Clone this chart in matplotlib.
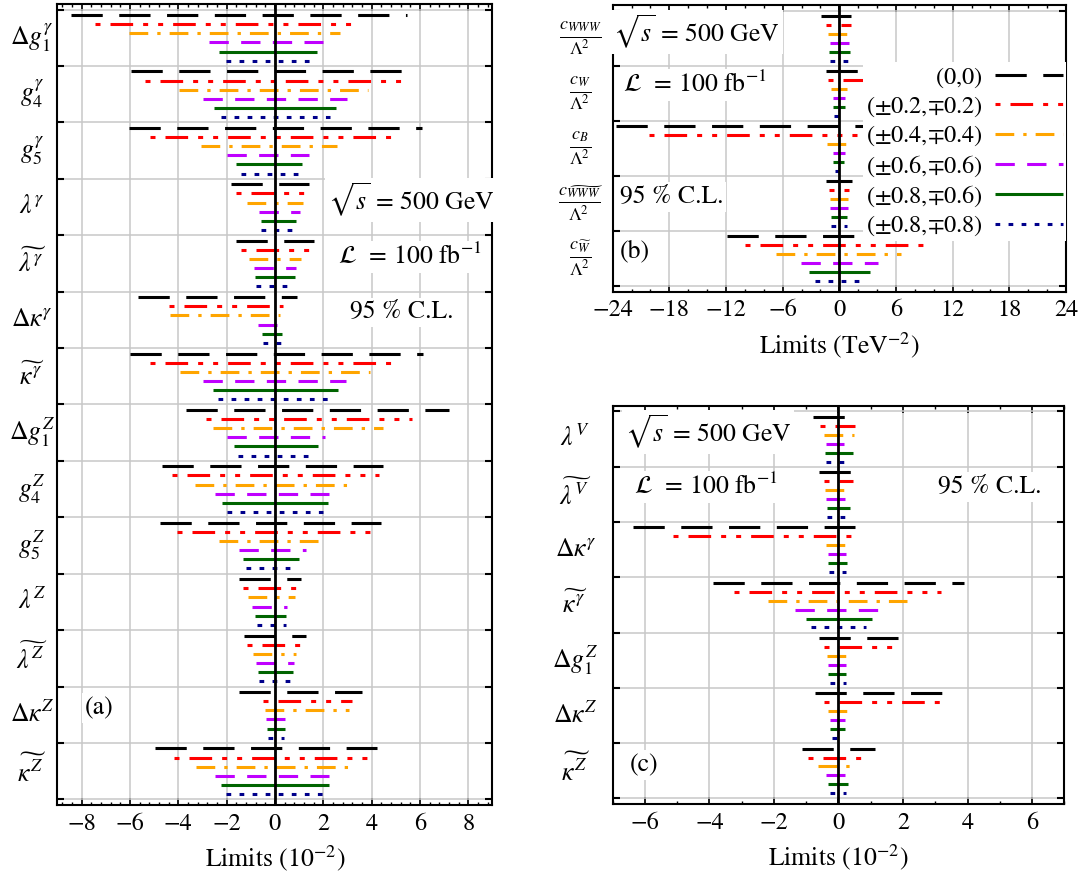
import matplotlib
matplotlib.use('Agg')
import matplotlib.pyplot as plt
from matplotlib.ticker import MultipleLocator
from matplotlib.lines import Line2D

plt.rcParams['font.family'] = 'STIXGeneral'
plt.rcParams['mathtext.fontset'] = 'stix'
plt.rcParams['lines.scale_dashes'] = False
plt.rcParams['axes.unicode_minus'] = True

# polarisation settings (P_e-, P_e+)
pol_labels = [r'$(0{,}0)$', r'$(\pm0.2{,}{\mp0.2})$', r'$(\pm0.4{,}{\mp0.4})$',
              r'$(\pm0.6{,}{\mp0.6})$', r'$(\pm0.8{,}{\mp0.6})$', r'$(\pm0.8{,}{\mp0.8})$']
colors = ['#000000', '#ff0000', '#ffa500', '#bf00ff', '#006400', '#00008b']
styles = [(0, (22.5, 11.9)),
          (0, (3.6, 7.2, 16.3, 7.2, 3.6, 7.2)),
          (0, (13.5, 6.5, 2.4, 6.5)),
          (0, (13.9, 8.9)),
          '-',
          (0, (3.4, 6.0))]

# panel (a): limits in 10^-2
a_params = [r'$\Delta g_1^{\gamma}$', r'$g_4^{\gamma}$', r'$g_5^{\gamma}$', r'$\lambda^{\gamma}$',
            r'$\widetilde{\lambda^{\gamma}}$', r'$\Delta\kappa^{\gamma}$', r'$\widetilde{\kappa^{\gamma}}$',
            r'$\Delta g_1^{Z}$', r'$g_4^{Z}$', r'$g_5^{Z}$', r'$\lambda^{Z}$',
            r'$\widetilde{\lambda^{Z}}$', r'$\Delta\kappa^{Z}$', r'$\widetilde{\kappa^{Z}}$']
a_lo = [[-8.46, -7.44, -6.04, -2.74, -2.31, -2.01],
        [-5.96, -5.38, -3.99, -2.96, -2.53, -2.23],
        [-6.05, -5.17, -3.07, -1.99, -1.62, -1.40],
        [-1.83, -1.60, -1.17, -0.67, -0.59, -0.56],
        [-1.60, -1.39, -1.07, -0.88, -0.83, -0.78],
        [-5.68, -4.39, -4.33, -0.69, -0.55, -0.48],
        [-6.01, -5.19, -3.91, -2.96, -2.57, -2.35],
        [-3.69, -2.85, -2.56, -1.99, -1.71, -1.54],
        [-4.66, -4.25, -3.30, -2.49, -2.17, -1.99],
        [-4.75, -4.06, -2.32, -1.50, -1.33, -1.21],
        [-1.50, -1.31, -1.11, -0.94, -0.83, -0.76],
        [-1.28, -1.14, -0.89, -0.77, -0.72, -0.66],
        [-1.49, -0.48, -0.43, -0.37, -0.33, -0.30],
        [-4.95, -4.18, -3.26, -2.49, -2.24, -2.04]]
a_hi = [[5.45, 3.15, 2.70, 1.98, 1.75, 1.51],
        [5.83, 5.21, 3.87, 2.98, 2.53, 2.26],
        [6.08, 4.80, 2.57, 1.40, 1.13, 0.99],
        [1.40, 1.24, 1.17, 1.02, 0.89, 0.77],
        [1.61, 1.43, 1.09, 0.89, 0.83, 0.55],
        [0.92, 0.33, 0.23, 0.10, 0.28, 0.26],
        [6.13, 4.80, 3.95, 2.94, 2.63, 2.30],
        [7.21, 5.67, 4.48, 2.08, 1.79, 1.47],
        [4.48, 4.32, 3.29, 2.23, 2.20, 1.98],
        [4.40, 3.95, 2.15, 1.27, 1.00, 0.67],
        [1.09, 0.88, 0.81, 0.50, 0.47, 0.44],
        [1.28, 1.06, 0.89, 0.78, 0.73, 0.67],
        [3.59, 3.19, 3.08, 0.40, 0.43, 0.37],
        [4.21, 3.85, 3.33, 2.24, 2.24, 2.05]]

# panel (b): limits in TeV^-2
b_params = [r'$\frac{c_{WWW}}{\Lambda^2}$', r'$\frac{c_{W}}{\Lambda^2}$', r'$\frac{c_{B}}{\Lambda^2}$',
            r'$\frac{c_{\widetilde{WWW}}}{\Lambda^2}$', r'$\frac{c_{\widetilde{W}}}{\Lambda^2}$']
b_lo = [[-1.91, -1.44, -1.15, -0.97, -1.04, -0.97],
        [-1.40, -1.15, -0.83, -0.72, -0.72, -0.61],
        [-23.6, -20.2, -1.26, -0.72, -0.65, -0.50],
        [-1.44, -1.08, -0.97, -0.94, -0.86, -0.86],
        [-11.94, -9.96, -6.65, -4.10, -3.17, -2.59]]
b_hi = [[1.22, 1.19, 0.90, 1.04, 1.08, 0.97],
        [4.50, 4.50, 0.79, 0.58, 0.58, 0.00],
        [4.50, 1.90, 0.72, 0.58, 0.50, 0.00],
        [1.37, 1.01, 0.94, 0.94, 0.86, 0.86],
        [11.51, 8.96, 6.58, 4.14, 3.20, 2.27]]

# panel (c): limits in 10^-2
c_params = [r'$\lambda^{V}$', r'$\widetilde{\lambda^{V}}$', r'$\Delta\kappa^{\gamma}$',
            r'$\widetilde{\kappa^{\gamma}}$', r'$\Delta g_1^{Z}$', r'$\Delta\kappa^{Z}$',
            r'$\widetilde{\kappa^{Z}}$']
c_lo = [[-0.78, -0.58, -0.46, -0.40, -0.41, -0.39],
        [-0.59, -0.44, -0.41, -0.38, -0.37, -0.36],
        [-6.38, -5.13, -0.39, -0.33, -0.32, -0.28],
        [-3.88, -3.25, -2.17, -1.34, -1.02, -0.84],
        [-0.59, -0.46, -0.36, -0.32, -0.32, -0.27],
        [-0.74, -0.46, -0.34, -0.25, -0.25, -0.21],
        [-1.12, -0.93, -0.62, -0.38, -0.31, -0.25]]
c_hi = [[0.19, 0.51, 0.48, 0.17, 0.44, 0.19],
        [0.39, 0.44, 0.18, 0.21, 0.37, 0.23],
        [0.51, 0.43, 0.21, 0.24, 0.25, 0.22],
        [3.89, 3.19, 2.12, 1.23, 1.03, 0.84],
        [1.87, 1.67, 0.23, 0.23, 0.23, 0.22],
        [3.20, 3.16, 0.25, 0.21, 0.21, 0.00],
        [1.12, 0.74, 0.37, 0.21, 0.29, 0.22]]

LW = 2.2
TXT = 18.5


def draw_panel(ax, params, lo, hi, xmax, major, minor, label_x, xlabel):
    n = len(params)
    for i in range(n):
        for k in range(6):
            y = i + 0.097 + 0.162 * k
            ax.plot([lo[i][k], hi[i][k]], [y, y], color=colors[k], ls=styles[k], lw=LW,
                    solid_capstyle='butt', dash_capstyle='butt', zorder=3)
        ax.text(label_x, i + 0.5, params[i], transform=ax.get_yaxis_transform(),
                ha='center', va='center', fontsize=18.5)
    ax.axvline(0, color='k', lw=2.0, zorder=4)
    ax.set_xlim(-xmax, xmax)
    ax.set_ylim(n + 0.1, -0.1)
    ax.set_yticks(range(n + 1))
    ax.xaxis.set_major_locator(MultipleLocator(major))
    ax.xaxis.set_minor_locator(MultipleLocator(minor))
    ax.tick_params(axis='x', which='both', direction='in', top=True, bottom=True)
    ax.tick_params(axis='x', which='major', length=5, width=1.2, labelsize=17.5, pad=6)
    ax.tick_params(axis='x', which='minor', length=2.5, width=1.0)
    ax.tick_params(axis='y', which='major', direction='in', left=True, right=True,
                   length=5, width=1.5, labelleft=False)
    ax.grid(True, which='major', color='#c8c8c8', lw=1.1)
    ax.set_axisbelow(True)
    for s in ax.spines.values():
        s.set_linewidth(1.5)
    ax.set_xlabel(xlabel, fontsize=18.5, labelpad=6)


def box_text(ax, x, y, s):
    ax.text(x, y, s, transform=ax.transAxes, ha='center', va='center', fontsize=TXT,
            bbox=dict(facecolor='white', edgecolor='none', pad=2), zorder=6)


fig = plt.figure(figsize=(10.82, 8.81), dpi=100)
ax_a = fig.add_axes([0.0531, 0.0863, 0.4020, 0.9092])
ax_b = fig.add_axes([0.5662, 0.6689, 0.4190, 0.3254])
ax_c = fig.add_axes([0.5662, 0.0874, 0.4175, 0.4518])

draw_panel(ax_a, a_params, a_lo, a_hi, 9, 2, 0.4, -0.0586, r'Limits $(10^{-2})$')
draw_panel(ax_b, b_params, b_lo, b_hi, 24, 6, 2, -0.071, r'Limits $(\mathrm{TeV}^{-2})$')
draw_panel(ax_c, c_params, c_lo, c_hi, 7, 2, 1, -0.0826, r'Limits $(10^{-2})$')

s_text = r'$\sqrt{s}\,=\,500$ GeV'
l_text = r'$\mathcal{L}\ \,=\,100\ \mathrm{fb}^{-1}$'
cl_text = '95 % C.L.'

box_text(ax_a, 0.813, 0.755, s_text)
box_text(ax_a, 0.810, 0.684, l_text)
box_text(ax_a, 0.792, 0.615, cl_text)
box_text(ax_a, 0.0966, 0.121, '(a)')

box_text(ax_b, 0.185, 0.907, s_text)
box_text(ax_b, 0.182, 0.721, l_text)
box_text(ax_b, 0.1295, 0.331, cl_text)
box_text(ax_b, 0.048, 0.14, '(b)')

box_text(ax_c, 0.211, 0.935, s_text)
box_text(ax_c, 0.207, 0.797, l_text)
box_text(ax_c, 0.834, 0.797, cl_text)
box_text(ax_c, 0.070, 0.0977, '(c)')

handles = [Line2D([], [], color=colors[k], ls=styles[k], lw=LW, solid_capstyle='butt',
                  dash_capstyle='butt') for k in range(6)]
leg = ax_b.legend(handles, pol_labels, loc='upper right', bbox_to_anchor=(1.0, 0.80),
                  markerfirst=False, frameon=True, facecolor='white', edgecolor='none',
                  framealpha=1, fancybox=False, fontsize=17.5, handlelength=2.8,
                  handletextpad=0.5, labelspacing=0.2, borderpad=0.12, borderaxespad=0)
leg.set_zorder(10)

fig.savefig('out.png', dpi=100)
